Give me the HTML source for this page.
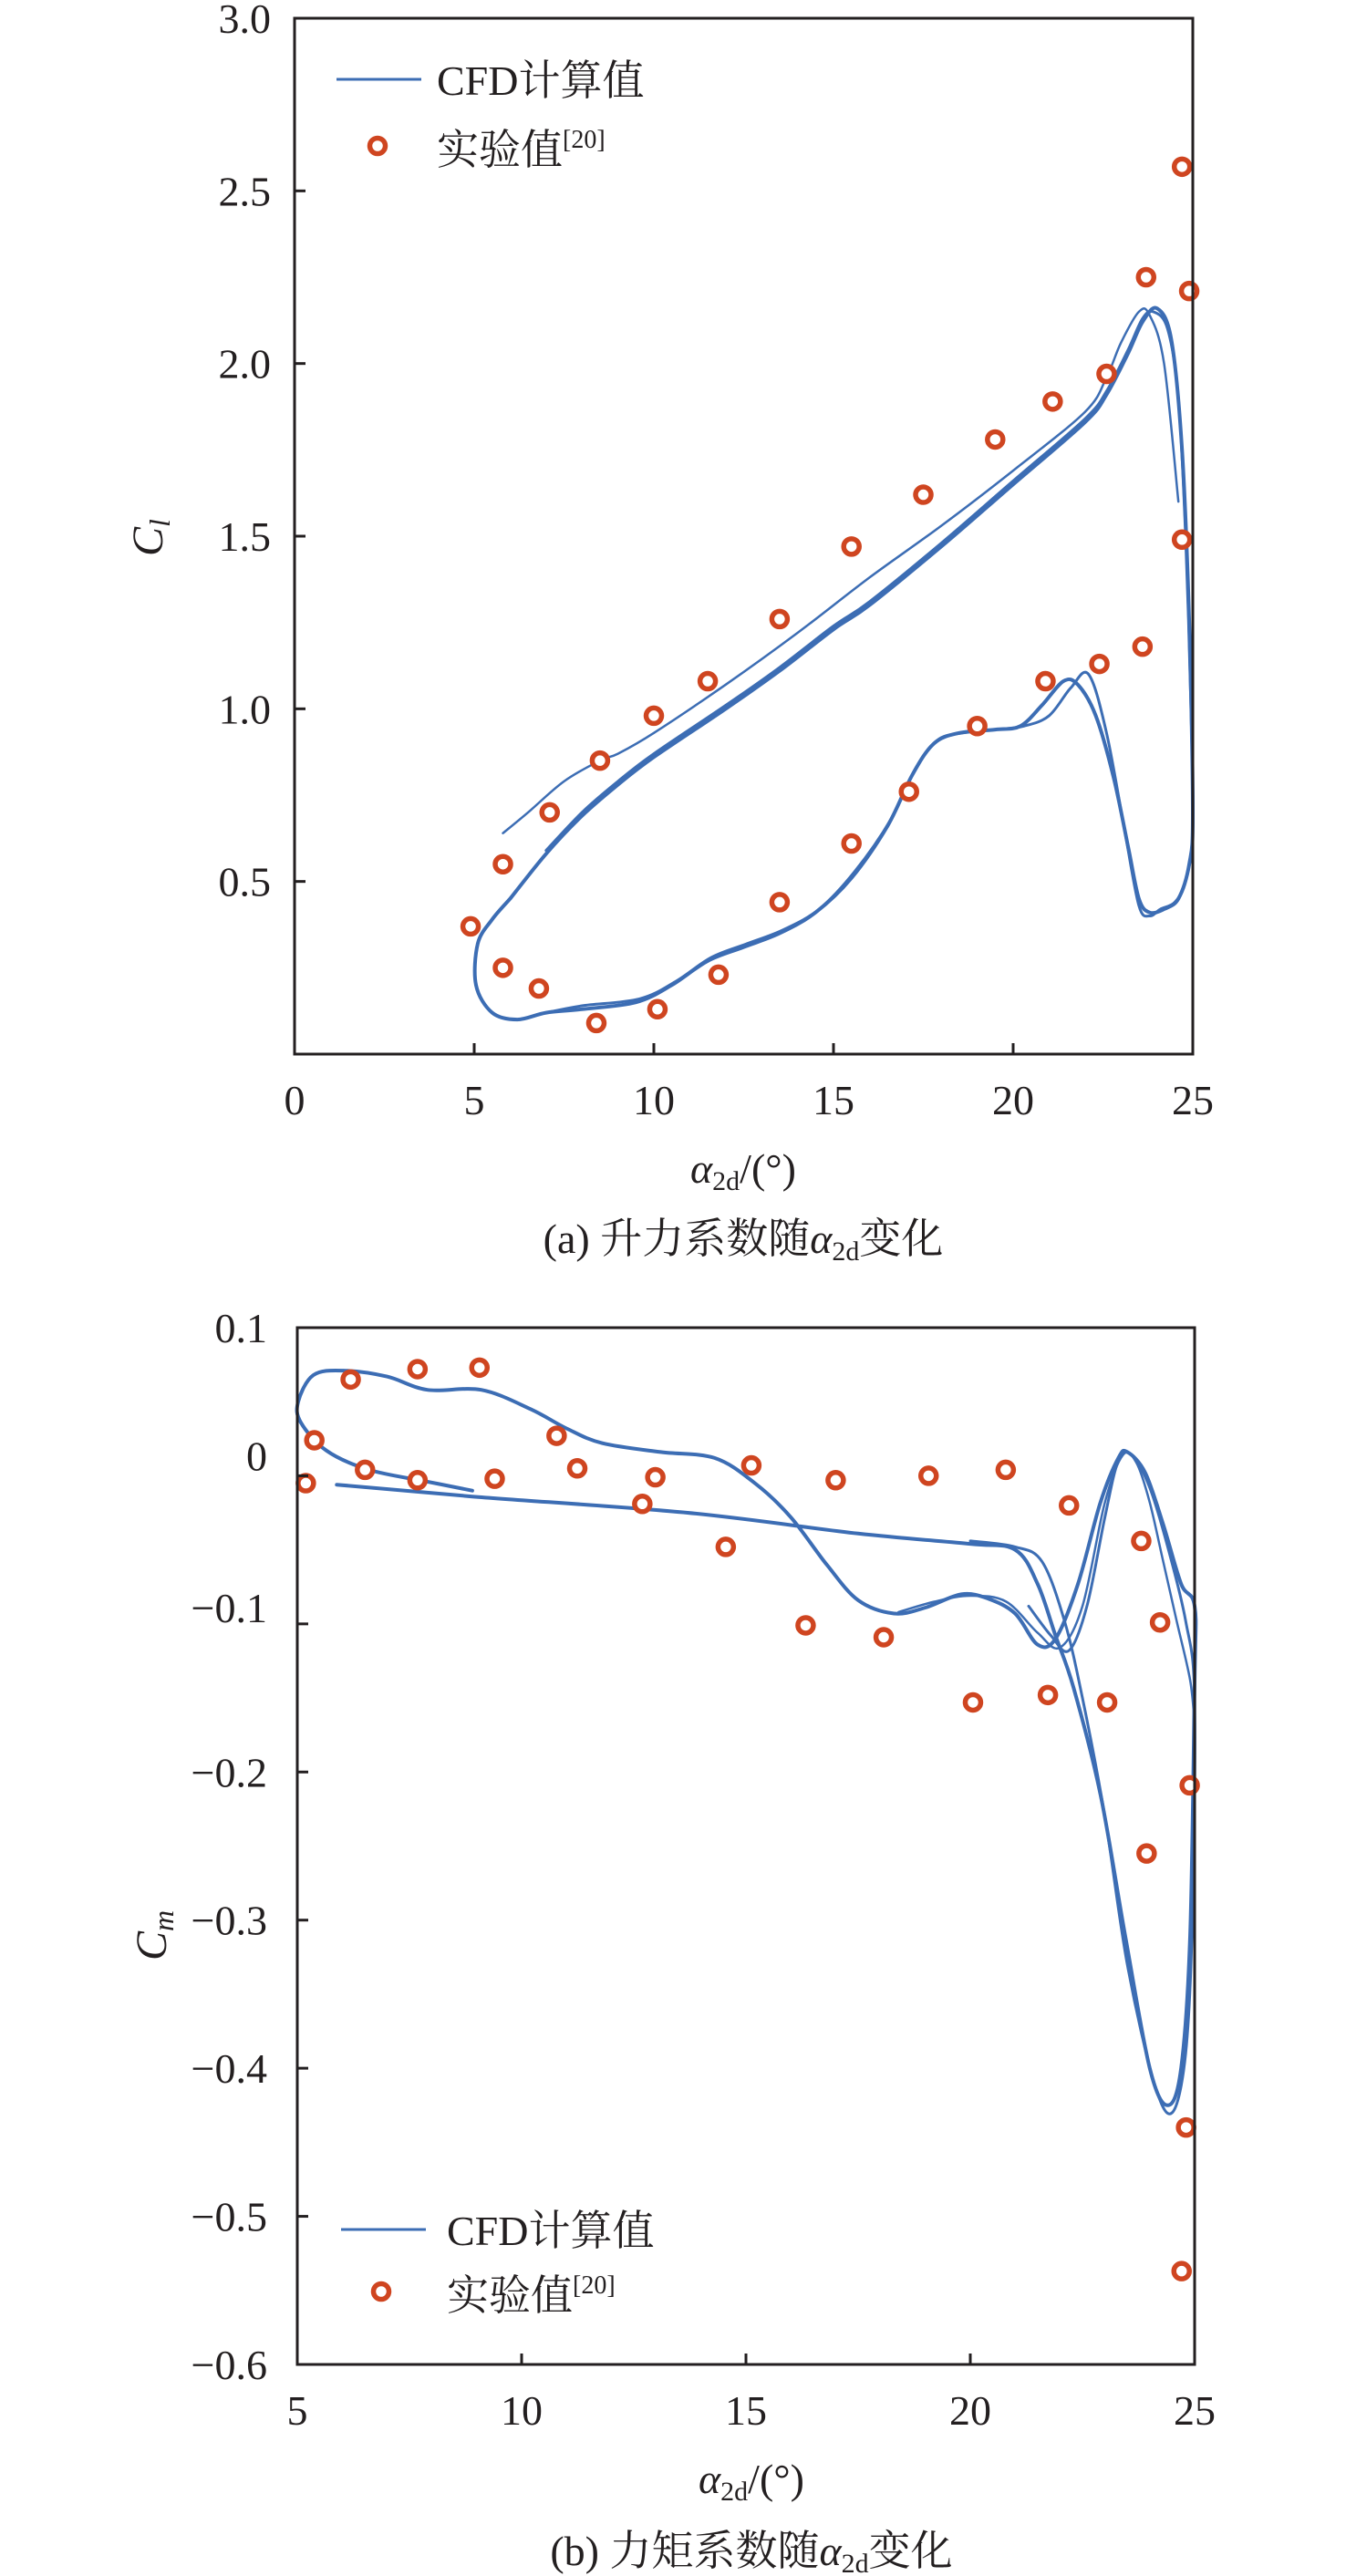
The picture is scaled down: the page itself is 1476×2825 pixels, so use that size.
<!DOCTYPE html>
<html><head><meta charset="utf-8">
<style>
html,body{margin:0;padding:0;background:#fff;}
svg{display:block;}
text{font-family:"Liberation Serif","Noto Serif CJK SC",serif;fill:#231f20;}
</style></head>
<body>
<svg id="fig" width="1476" height="2825" viewBox="0 0 1476 2825" xmlns="http://www.w3.org/2000/svg">
<rect width="1476" height="2825" fill="#fff"/>
<g id="chartA"></g>
<g id="chartB"></g>
</svg>
<script>
// ---- Chart A data (lift) ----
const aXTicks = [0,5,10,15,20,25];
const aYTicks = [0.5,1.0,1.5,2.0,2.5,3.0];
const aYTickLabels = ["0.5","1.0","1.5","2.0","2.5","3.0"];
const aExpAlpha = [4.9,5.8,7.1,8.5,10,11.5,13.5,15.5,17.5,19.5,21.1,22.6,23.7,24.7,24.9,24.7,23.6,22.4,20.9,19,17.1,15.5,13.5,11.8,10.1,8.4,6.8,5.8];
const aExpCl = [0.37,0.55,0.70,0.85,0.98,1.08,1.26,1.47,1.62,1.78,1.89,1.97,2.25,2.57,2.21,1.49,1.18,1.13,1.08,0.95,0.76,0.61,0.44,0.23,0.13,0.09,0.19,0.25];
const aLoopAlpha = [6,7,8,9,10,12,13.5,15,16,18,20,22,22.6,23.2,23.6,24,24.4,24.7,24.9,25,24.9,24.6,24.2,23.8,23.5,23.2,22.8,22.3,21.8,21.4,20.8,20.2,19.5,18.5,17.8,17.2,16.5,15.5,14.5,13.5,12.5,11.5,10.5,9.5,8,7,6.2,5.5,5.05,5.1,5.5,6];
const aLoopCl = [0.45,0.58,0.69,0.78,0.86,1.0,1.11,1.23,1.30,1.47,1.65,1.83,1.91,2.03,2.12,2.16,2.07,1.75,1.25,0.70,0.55,0.45,0.42,0.41,0.45,0.60,0.80,0.98,1.07,1.08,1.01,0.95,0.94,0.93,0.90,0.81,0.66,0.51,0.41,0.35,0.31,0.27,0.20,0.15,0.13,0.12,0.10,0.12,0.20,0.32,0.39,0.45];
const aLoop2Alpha = [7,8,9,10,12,13.5,15,16,18,20,22,22.6,23.2,23.6,23.9,24.3,24.6,24.8,24.95,25,24.8,24.5,24.1,23.8,23.5,23.1,22.6,22.1,21.6,21,20.3,19.5,18.6,17.9,17.3,16.6,15.6,14.6,13.6,12.6,11.6,10.6,9.6,8,7];
const aLoop2Cl = [0.59,0.70,0.79,0.87,1.01,1.12,1.24,1.31,1.48,1.66,1.84,1.92,2.04,2.13,2.15,2.10,1.90,1.50,1.00,0.65,0.50,0.44,0.42,0.40,0.43,0.65,0.93,1.10,1.06,0.98,0.95,0.94,0.93,0.91,0.83,0.68,0.53,0.42,0.36,0.32,0.28,0.21,0.16,0.14,0.12];
const aThinAlpha = [5.8,6.5,7.5,8.5,9,10,12,14,16,18,20,22,22.6,23,23.5,23.8,24.2,24.6];
const aThinCl = [0.64,0.70,0.79,0.85,0.87,0.93,1.07,1.22,1.38,1.53,1.69,1.86,1.96,2.06,2.15,2.14,2.00,1.60];

// ---- Chart B data (moment) ----
const bXTicks = [5,10,15,20,25];
const bYTicks = [0.1,0,-0.1,-0.2,-0.3,-0.4,-0.5,-0.6];
const bYTickLabels = ["0.1","0","\u22120.1","\u22120.2","\u22120.3","\u22120.4","\u22120.5","\u22120.6"];
const bExpAlpha = [5.19,5.38,6.19,7.68,9.06,6.51,7.68,9.4,10.78,11.24,12.98,12.69,14.55,15.12,16.33,17.0,18.07,19.07,20.06,20.79,21.73,22.2,23.05,23.81,24.23,24.89,23.93,24.81,24.71];
const bExpCm = [-0.005,0.024,0.065,0.072,0.073,0.004,-0.003,-0.002,0.027,0.005,-0.001,-0.019,-0.048,0.007,-0.101,-0.003,-0.109,0.0,-0.153,0.004,-0.148,-0.02,-0.153,-0.044,-0.099,-0.209,-0.255,-0.44,-0.537];
const bLoopAlpha = [5.88,8.9,13.7,17.5,20,21,21.5,21.9,22.3,22.9,23.45,24.0,24.4,24.7,24.9,25,25,24.7,24.3,23.9,23.5,23.3,22.9,22.4,21.9,21.5,21,20.4,19.8,19.0,18.3,17.5,16.8,16.0,15.2,14.3,13.1,11.8,11.0,10.2,9.1,7.9,7.0,6.03,5.36,5.02,5.08,5.65,6.6,7.9,8.9];
const bLoopCm = [-0.006,-0.014,-0.025,-0.039,-0.046,-0.05,-0.073,-0.108,-0.143,-0.215,-0.31,-0.40,-0.425,-0.40,-0.31,-0.138,-0.088,-0.073,-0.033,0.002,0.016,0.012,-0.018,-0.073,-0.11,-0.114,-0.093,-0.083,-0.08,-0.089,-0.093,-0.084,-0.06,-0.028,-0.005,0.012,0.016,0.022,0.032,0.045,0.058,0.058,0.067,0.071,0.068,0.05,0.036,0.017,0.004,-0.004,-0.01];
const bLoop2Alpha = [20,21,21.6,22.1,22.5,23.0,23.5,24.1,24.5,24.8,24.95,25,24.8,24.4,24.0,23.6,23.3,23.0,22.6,22.2,21.8,21.3];
const bLoop2Cm = [-0.044,-0.048,-0.058,-0.098,-0.15,-0.23,-0.33,-0.41,-0.43,-0.39,-0.30,-0.15,-0.098,-0.048,-0.008,0.014,0.01,-0.028,-0.088,-0.118,-0.108,-0.088];
const bLoop3Alpha = [18.4,19.2,20,20.8,21.5,22,22.5,23,23.4,23.7,24.0,24.3,24.6,24.9,25];
const bLoop3Cm = [-0.092,-0.085,-0.081,-0.085,-0.106,-0.116,-0.088,-0.018,0.014,0.009,-0.018,-0.058,-0.098,-0.138,-0.168];

const NS = "http://www.w3.org/2000/svg";
function mk(parent, tag, attrs, txt){
  const e = document.createElementNS(NS, tag);
  for (const k in attrs) e.setAttribute(k, attrs[k]);
  if (txt !== undefined) e.textContent = txt;
  parent.appendChild(e);
  return e;
}
const LINE = "#3c6db4", MARK = "#cf4520";

function pathFrom(xs, ys, sx, sy){
  const P = xs.map((v,i)=>[sx(v), sy(ys[i])]);
  let d = "M" + P[0][0].toFixed(1) + "," + P[0][1].toFixed(1);
  for (let i=0;i<P.length-1;i++){
    const p0 = P[Math.max(0,i-1)], p1 = P[i], p2 = P[i+1], p3 = P[Math.min(P.length-1,i+2)];
    const c1x = p1[0] + (p2[0]-p0[0])/6, c1y = p1[1] + (p2[1]-p0[1])/6;
    const c2x = p2[0] - (p3[0]-p1[0])/6, c2y = p2[1] - (p3[1]-p1[1])/6;
    d += "C" + c1x.toFixed(1) + "," + c1y.toFixed(1) + " " + c2x.toFixed(1) + "," + c2y.toFixed(1) + " " + p2[0].toFixed(1) + "," + p2[1].toFixed(1);
  }
  return d;
}

function drawChart(g, cfg){
  const {L,R,T,B,x0,x1,y0,y1} = cfg;
  const sx = v => L + (v-x0)/(x1-x0)*(R-L);
  const sy = v => B - (v-y0)/(y1-y0)*(B-T);
  cfg.curves.forEach((c,i)=>{
    const p = mk(g,"path",{d:pathFrom(c[0],c[1],sx,sy),fill:"none",stroke:LINE,"stroke-width":c[2],"stroke-linejoin":"round","stroke-linecap":"round"});
    
    
  });
  for (let i=0;i<cfg.ex.length;i++){
    const m = mk(g,"circle",{cx:sx(cfg.ex[i]),cy:sy(cfg.ey[i]),r:8.5,fill:"#fff",stroke:MARK,"stroke-width":5.5});
    
    
  }
  const fr = mk(g,"rect",{x:L,y:T,width:R-L,height:B-T,fill:"none",stroke:"#231f20","stroke-width":3});
  
  
  cfg.xt.forEach(v=>{
    const x = sx(v);
    if (v!==x0 && v!==x1) mk(g,"line",{x1:x,y1:B,x2:x,y2:B-12,stroke:"#231f20","stroke-width":3});
    const t = mk(g,"text",{x:x,y:B+66,"font-size":46,"text-anchor":"middle"},String(v));
    
    
  });
  cfg.yt.forEach((v,i)=>{
    const y = sy(v);
    if (Math.abs(v-y1)>1e-9 && Math.abs(v-y0)>1e-9) mk(g,"line",{x1:L,y1:y,x2:L+12,y2:y,stroke:"#231f20","stroke-width":3});
    const off = cfg.ylOff ? cfg.ylOff[i] : 0;
    const t = mk(g,"text",{x:cfg.ylx,y:y+16-off,"font-size":46,"text-anchor":"end"},cfg.yl[i]);
    
    
  });
}

const gA = document.getElementById("chartA");
drawChart(gA,{L:323,R:1308,T:20,B:1156,x0:0,x1:25,y0:0,y1:3,xt:aXTicks,yt:aYTicks,yl:aYTickLabels,ylx:297,
  ex:aExpAlpha,ey:aExpCl,
  curves:[[aLoopAlpha,aLoopCl,4],[aLoop2Alpha,aLoop2Cl,3],[aThinAlpha,aThinCl,2.5]]});
const gB = document.getElementById("chartB");
drawChart(gB,{L:326,R:1310,T:1456,B:2593,x0:5,x1:25,y0:-0.6,y1:0.1,xt:bXTicks,yt:bYTicks,yl:bYTickLabels,ylx:293,
  ylOff:[0,22,18,0,0,0,0,0],
  ex:bExpAlpha,ey:bExpCm,
  curves:[[bLoopAlpha,bLoopCm,4],[bLoop2Alpha,bLoop2Cm,3],[bLoop3Alpha,bLoop3Cm,2.5]]});
</script>
<svg style="position:absolute;left:0;top:0" width="1476" height="2825" xmlns="http://www.w3.org/2000/svg">
<g>
<line x1="369" y1="87" x2="462" y2="87" stroke="#3c6db4" stroke-width="3"/>
<text x="479" y="104" font-size="46">CFD计算值</text>
<circle cx="414" cy="160" r="8.5" fill="#fff" stroke="#cf4520" stroke-width="5.5"/>
<text x="479" y="180" font-size="46">实验值<tspan font-size="28" dy="-18">[20]</tspan></text>
</g>
<text x="0" y="0" font-size="48" font-style="italic" transform="translate(178,610) rotate(-90)">C<tspan font-size="32" dy="8">l</tspan></text>
<text x="815" y="1297" font-size="46" text-anchor="middle"><tspan font-style="italic">α</tspan><tspan font-size="30" dy="8">2d</tspan><tspan dy="-8">/(°)</tspan></text>
<text x="815" y="1374" font-size="46" text-anchor="middle">(a) 升力系数随<tspan font-style="italic">α</tspan><tspan font-size="30" dy="8">2d</tspan><tspan dy="-8">变化</tspan></text>
<g>
<line x1="374" y1="2445" x2="467" y2="2445" stroke="#3c6db4" stroke-width="3"/>
<text x="490" y="2462" font-size="46">CFD计算值</text>
<circle cx="418" cy="2513" r="8.5" fill="#fff" stroke="#cf4520" stroke-width="5.5"/>
<text x="490" y="2533" font-size="46">实验值<tspan font-size="28" dy="-18">[20]</tspan></text>
</g>
<text x="0" y="0" font-size="48" font-style="italic" transform="translate(182,2150) rotate(-90)">C<tspan font-size="32" dy="8">m</tspan></text>
<text x="824" y="2734" font-size="46" text-anchor="middle"><tspan font-style="italic">α</tspan><tspan font-size="30" dy="8">2d</tspan><tspan dy="-8">/(°)</tspan></text>
<text x="824" y="2813" font-size="46" text-anchor="middle">(b) 力矩系数随<tspan font-style="italic">α</tspan><tspan font-size="30" dy="8">2d</tspan><tspan dy="-8">变化</tspan></text>
</svg>
</body></html>
